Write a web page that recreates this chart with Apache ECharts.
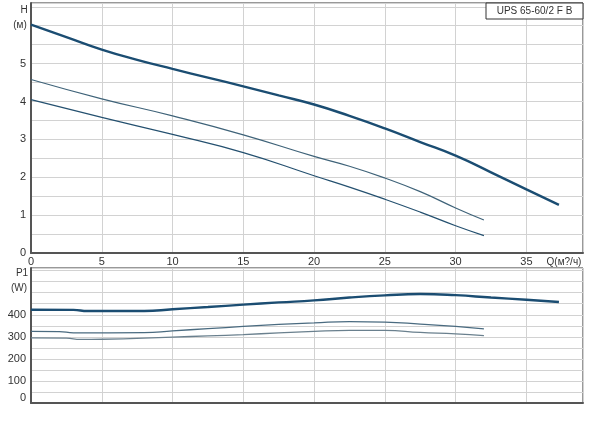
<!DOCTYPE html>
<html>
<head>
<meta charset="utf-8">
<script src="https://cdn.jsdelivr.net/npm/echarts@6/dist/echarts.min.js"></script>
<style>
html,body{margin:0;padding:0;background:#fff;}
#chart{width:600px;height:437px;}
</style>
</head>
<body>
<div id="chart"></div>
<script>
// ---- data ----
const title = 'UPS 65-60/2 F B';
const xName = 'Q(м?/ч)';
const hName = 'H';
const hUnit = '(м)';
const pName = 'P1';
const pUnit = '(W)';

const hQ1 = [0, 2.5, 5, 7.5, 10, 12.5, 15, 17.5, 20, 22.5, 25, 27.5, 30, 32.5, 35, 37.3];
const hH1 = [6.03, 5.70, 5.37, 5.10, 4.86, 4.63, 4.40, 4.16, 3.92, 3.62, 3.29, 2.93, 2.57, 2.13, 1.68, 1.27];
const hQ2 = [0, 5, 10, 15, 20, 22.5, 25, 27.5, 30, 32];
const hH2 = [4.58, 4.07, 3.62, 3.12, 2.55, 2.29, 1.98, 1.62, 1.19, 0.87];
const hQ3 = [0, 5, 10, 15, 20, 22.5, 25, 27.5, 30, 32];
const hH3 = [4.05, 3.58, 3.13, 2.65, 2.04, 1.74, 1.42, 1.08, 0.72, 0.46];

const pQ1 = [0, 3, 4, 8, 10, 12.5, 15, 17.5, 20, 22.5, 25, 27.5, 30, 32.5, 35, 37.3];
const pP1 = [423, 422, 417, 417, 425, 435, 446, 456, 465, 478, 488, 494, 489, 478, 468, 458];
const pQ2 = [0, 2, 3, 8, 10, 12.5, 15, 17.5, 20, 22.5, 25, 27.5, 30, 32];
const pP2 = [325, 324, 318, 319, 327, 337, 347, 356, 363, 369, 367, 358, 347, 336];
const pQ3 = [0, 2.5, 3.5, 5, 10, 12.5, 15, 17.5, 20, 22.5, 25, 27.5, 30, 32];
const pP3 = [295, 294, 288, 289, 299, 304, 310, 318, 325, 329, 329, 320, 313, 305];

const xTicks = [0, 5, 10, 15, 20, 25, 30, 35];
const hTicks = [0, 1, 2, 3, 4, 5];
const pTicks = [0, 100, 200, 300, 400];

// ---- chart ----
const zip = (a, b) => a.map((v, i) => [v, b[i]]);
const chart = echarts.init(document.getElementById('chart'), null, {renderer: 'canvas'});
const gridLine = {show: true, lineStyle: {color: '#d2d2d2', width: 1}};
const axisLine = {show: true, lineStyle: {color: '#555', width: 2}};
const lblFont = {fontFamily: 'Liberation Sans, Arial, sans-serif', fontSize: 11, color: '#333'};

function line(xi, yi, data, color, width) {
  return {
    type: 'line', xAxisIndex: xi, yAxisIndex: yi, data: data,
    smooth: 0.5, symbol: 'none', silent: true,
    lineStyle: {color: color, width: width}
  };
}

chart.setOption({
  animation: false,
  backgroundColor: '#fff',
  grid: [
    {left: 31, top: 3, width: 552, height: 250, show: true, borderColor: '#333', borderWidth: 1},
    {left: 31, top: 268, width: 552, height: 135, show: true, borderColor: '#333', borderWidth: 1}
  ],
  xAxis: [
    {type: 'value', gridIndex: 0, min: 0, max: 39, interval: 5,
     axisLine: axisLine, axisTick: {show: false}, splitLine: gridLine,
     axisLabel: Object.assign({margin: 3, formatter: v => xTicks.includes(v) ? String(v) : ''}, lblFont)},
    {type: 'value', gridIndex: 1, min: 0, max: 39, interval: 5,
     axisLine: axisLine, axisTick: {show: false}, splitLine: gridLine,
     axisLabel: {show: false}}
  ],
  yAxis: [
    {type: 'value', gridIndex: 0, min: 0, max: 6.6, interval: 0.5,
     axisLine: axisLine, axisTick: {show: false}, splitLine: gridLine,
     axisLabel: Object.assign({margin: 5, formatter: v => hTicks.includes(v) ? String(v) : ''}, lblFont)},
    {type: 'value', gridIndex: 1, min: 0, max: 612, interval: 50,
     axisLine: axisLine, axisTick: {show: false}, splitLine: gridLine,
     axisLabel: Object.assign({margin: 5,
       formatter: v => v === 0 ? '{z|0}' : (pTicks.includes(v) ? String(v) : ''),
       rich: {z: {fontFamily: 'Liberation Sans, Arial, sans-serif', fontSize: 11, color: '#333', padding: [0, 0, 11, 0]}}
     }, lblFont)}
  ],
  series: [
    line(0, 0, zip(hQ1, hH1), '#1b4d72', 2.4),
    line(0, 0, zip(hQ2, hH2), '#3f6379', 1.2),
    line(0, 0, zip(hQ3, hH3), '#24506f', 1.2),
    line(1, 1, zip(pQ1, pP1), '#1b4d72', 2.4),
    line(1, 1, zip(pQ2, pP2), '#4a6b80', 1.3),
    line(1, 1, zip(pQ3, pP3), '#6a808e', 1.3)
  ],
  graphic: [
    {type: 'rect', shape: {x: 486, y: 3, width: 97, height: 16},
     style: {fill: '#fff', stroke: '#333', lineWidth: 1}, z: 100},
    {type: 'text', x: 534.5, y: 11, z: 101,
     style: {text: title, fill: '#333', font: '10px Liberation Sans, Arial, sans-serif', align: 'center', verticalAlign: 'middle'}},
    {type: 'text', x: 564, y: 262, z: 101,
     style: {text: xName, fill: '#333', font: '10px Liberation Sans, Arial, sans-serif', align: 'center', verticalAlign: 'middle'}},
    {type: 'text', x: 24, y: 10, z: 101,
     style: {text: hName, fill: '#333', font: '10px Liberation Sans, Arial, sans-serif', align: 'center', verticalAlign: 'middle'}},
    {type: 'text', x: 20, y: 25, z: 101,
     style: {text: hUnit, fill: '#333', font: '10px Liberation Sans, Arial, sans-serif', align: 'center', verticalAlign: 'middle'}},
    {type: 'text', x: 22, y: 273, z: 101,
     style: {text: pName, fill: '#333', font: '10px Liberation Sans, Arial, sans-serif', align: 'center', verticalAlign: 'middle'}},
    {type: 'text', x: 19, y: 288, z: 101,
     style: {text: pUnit, fill: '#333', font: '10px Liberation Sans, Arial, sans-serif', align: 'center', verticalAlign: 'middle'}}
  ]
});
</script>
</body>
</html>
